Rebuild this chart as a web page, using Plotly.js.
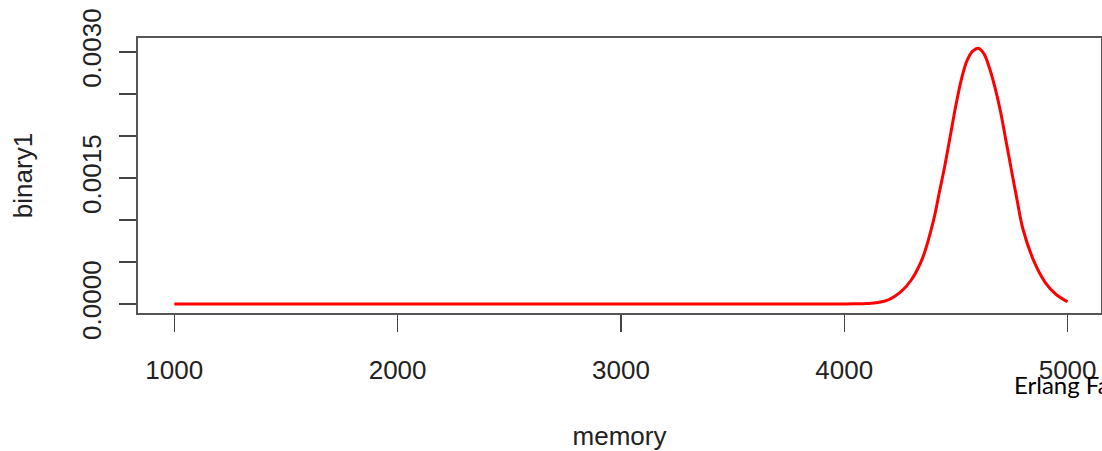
<!DOCTYPE html>
<html>
<head>
<meta charset="utf-8">
<script src="https://cdn.plot.ly/plotly-3.0.1.min.js"></script>
<style>
  html, body { margin: 0; padding: 0; background: #fff; overflow: hidden; }
  #chart { width: 1102px; height: 451px; }
</style>
</head>
<body>
<div id="chart"></div>
<script>
// Data
const memory = [1000, 1500, 2000, 2500, 3000, 3500, 4000, 4050, 4100, 4150, 4200, 4250, 4300, 4350,
                4400, 4425, 4450, 4475, 4500, 4525, 4550, 4575, 4600, 4625, 4650, 4675, 4700, 4725,
                4750, 4775, 4800, 4850, 4900, 4950, 5000];
const binary1 = [0, 0, 0, 0, 0, 0, 0.000001, 0.000002, 0.000006, 0.000017, 0.000052, 0.000138, 0.000286, 0.000543,
                 0.001000, 0.001321, 0.001643, 0.002005, 0.002369, 0.002680, 0.002900, 0.003010, 0.003045, 0.002980,
                 0.002810, 0.002575, 0.002286, 0.001930, 0.001571, 0.001220, 0.000893, 0.000504,
                 0.000256, 0.000110, 0.000027];

const xTicks = [1000, 2000, 3000, 4000, 5000];
const yTicks = [0, 0.0005, 0.0010, 0.0015, 0.0020, 0.0025, 0.0030];
const yTickText = ['0.0000', '', '', '0.0015', '', '', '0.0030'];
const xTitle = 'memory';
const yTitle = 'binary1';
const noteText = 'Erlang Fa';

const axisFont = { family: 'Liberation Sans, Arial, sans-serif', size: 26, color: '#222' };

const trace = {
  x: memory,
  y: binary1,
  type: 'scatter',
  mode: 'lines',
  line: { color: '#ff0000', width: 3, shape: 'spline', smoothing: 1 },
  hoverinfo: 'skip'
};

const layout = {
  width: 1102,
  height: 451,
  margin: { l: 138, r: 1, t: 38, b: 138, pad: 0 },
  paper_bgcolor: '#ffffff',
  plot_bgcolor: '#ffffff',
  showlegend: false,
  xaxis: {
    range: [837.5, 5149.5],
    tickvals: xTicks,
    ticktext: xTicks.map(String),
    ticks: 'outside',
    ticklen: 17,
    tickwidth: 1.5,
    tickcolor: '#444',
    showline: true,
    mirror: true,
    linecolor: '#555',
    linewidth: 1.8,
    showgrid: false,
    zeroline: false,
    tickfont: axisFont,
    ticklabelstandoff: 16,
    title: { text: xTitle, font: axisFont, standoff: 43 },
    automargin: false
  },
  yaxis: {
    range: [-0.000107, 0.0031667],
    tickvals: yTicks,
    ticktext: yTickText,
    tickangle: -90,
    ticks: 'outside',
    ticklen: 17,
    tickwidth: 1.5,
    tickcolor: '#444',
    showline: true,
    mirror: true,
    linecolor: '#555',
    linewidth: 1.8,
    showgrid: false,
    zeroline: false,
    tickfont: axisFont,
    ticklabelstandoff: 8,
    title: { text: yTitle, font: axisFont, standoff: 37 },
    automargin: false
  },
  annotations: [{
    text: noteText,
    xref: 'paper', yref: 'paper',
    x: (1012 - 138) / 963, y: -(401 - 313) / 275,
    xanchor: 'left', yanchor: 'bottom',
    showarrow: false,
    font: { family: 'Lato, "Open Sans", sans-serif', size: 24, color: '#000' }
  }]
};

Plotly.newPlot('chart', [trace], layout, { staticPlot: true, displayModeBar: false });
</script>
</body>
</html>
